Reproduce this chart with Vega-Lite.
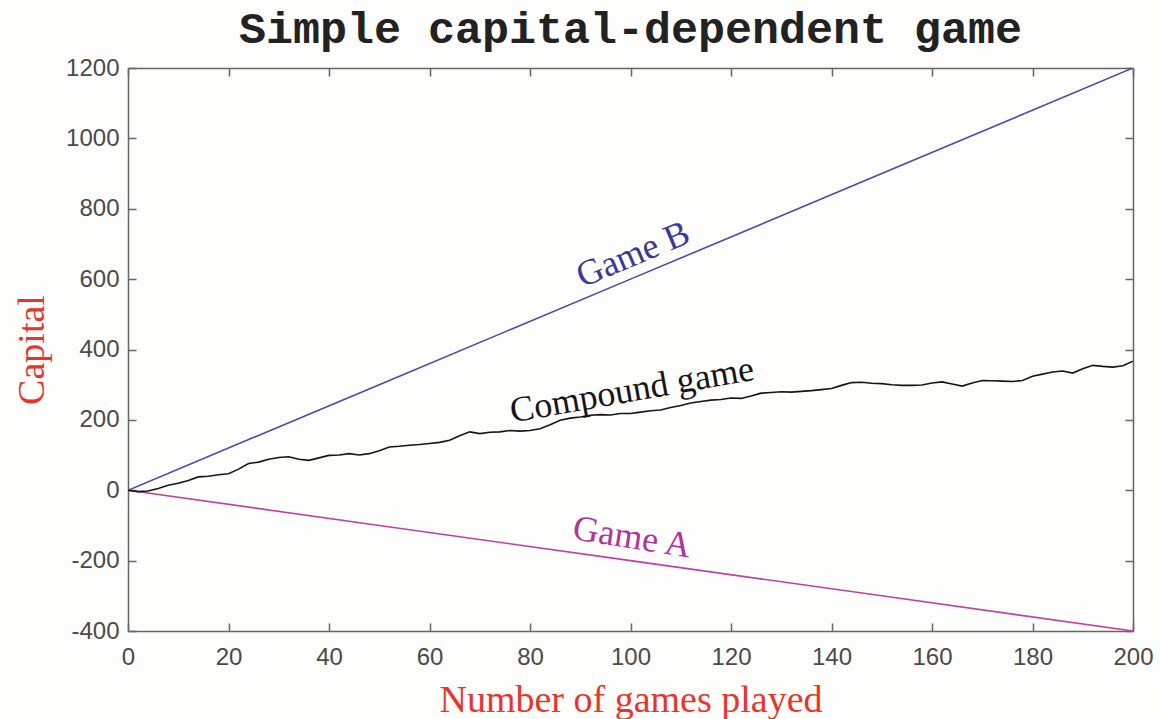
{
  "$schema": "https://vega.github.io/schema/vega-lite/v6.json",
  "width": 1005,
  "height": 563,
  "autosize": "none",
  "padding": {"left": 128, "top": 68, "right": 27, "bottom": 88},
  "background": "#fdfdfb",
  "title": {"text": "Simple capital-dependent game", "font": "Liberation Mono", "fontWeight": "bold", "fontSize": 45, "color": "#222222", "offset": 4, "anchor": "middle"},
  "config": {
    "view": {"stroke": null},
    "axis": {"grid": false, "domainColor": "#666666", "domainWidth": 1.5, "tickColor": "#666666", "tickWidth": 1.5, "tickSize": -8, "labelFont": "Liberation Sans", "labelFontSize": 24, "labelColor": "#4a4a4a", "labelFlush": false, "labelOverlap": false, "labelExpr": "'' + datum.value", "titleFont": "Liberation Serif", "titleFontWeight": "normal", "titleFontSize": 38, "titleColor": "#e8352b"}
  },
  "datasets": {
    "lines": [
      {"series": "Game B", "games": 0, "capital": 0},
      {"series": "Game B", "games": 50, "capital": 300},
      {"series": "Game B", "games": 100, "capital": 600},
      {"series": "Game B", "games": 150, "capital": 900},
      {"series": "Game B", "games": 200, "capital": 1200},
      {"series": "Game A", "games": 0, "capital": 0},
      {"series": "Game A", "games": 50, "capital": -100},
      {"series": "Game A", "games": 100, "capital": -200},
      {"series": "Game A", "games": 150, "capital": -300},
      {"series": "Game A", "games": 200, "capital": -400},
      {"series": "Compound", "games": 0, "capital": 0},
      {"series": "Compound", "games": 2, "capital": -4},
      {"series": "Compound", "games": 4, "capital": -2},
      {"series": "Compound", "games": 6, "capital": 5},
      {"series": "Compound", "games": 8, "capital": 14},
      {"series": "Compound", "games": 10, "capital": 20},
      {"series": "Compound", "games": 12, "capital": 28},
      {"series": "Compound", "games": 14, "capital": 38},
      {"series": "Compound", "games": 16, "capital": 40},
      {"series": "Compound", "games": 18, "capital": 44},
      {"series": "Compound", "games": 20, "capital": 47},
      {"series": "Compound", "games": 22, "capital": 60},
      {"series": "Compound", "games": 24, "capital": 76},
      {"series": "Compound", "games": 26, "capital": 80},
      {"series": "Compound", "games": 28, "capital": 88},
      {"series": "Compound", "games": 30, "capital": 93},
      {"series": "Compound", "games": 32, "capital": 95},
      {"series": "Compound", "games": 34, "capital": 88},
      {"series": "Compound", "games": 36, "capital": 85},
      {"series": "Compound", "games": 38, "capital": 92},
      {"series": "Compound", "games": 40, "capital": 99},
      {"series": "Compound", "games": 42, "capital": 100},
      {"series": "Compound", "games": 44, "capital": 104},
      {"series": "Compound", "games": 46, "capital": 100},
      {"series": "Compound", "games": 48, "capital": 104},
      {"series": "Compound", "games": 50, "capital": 112},
      {"series": "Compound", "games": 52, "capital": 123},
      {"series": "Compound", "games": 54, "capital": 125},
      {"series": "Compound", "games": 56, "capital": 128},
      {"series": "Compound", "games": 58, "capital": 130},
      {"series": "Compound", "games": 60, "capital": 133},
      {"series": "Compound", "games": 62, "capital": 136},
      {"series": "Compound", "games": 64, "capital": 142},
      {"series": "Compound", "games": 66, "capital": 155},
      {"series": "Compound", "games": 68, "capital": 166},
      {"series": "Compound", "games": 70, "capital": 161},
      {"series": "Compound", "games": 72, "capital": 165},
      {"series": "Compound", "games": 74, "capital": 166},
      {"series": "Compound", "games": 76, "capital": 170},
      {"series": "Compound", "games": 78, "capital": 168},
      {"series": "Compound", "games": 80, "capital": 170},
      {"series": "Compound", "games": 82, "capital": 175},
      {"series": "Compound", "games": 84, "capital": 186},
      {"series": "Compound", "games": 86, "capital": 199},
      {"series": "Compound", "games": 88, "capital": 205},
      {"series": "Compound", "games": 90, "capital": 208},
      {"series": "Compound", "games": 92, "capital": 213},
      {"series": "Compound", "games": 94, "capital": 215},
      {"series": "Compound", "games": 96, "capital": 214},
      {"series": "Compound", "games": 98, "capital": 218},
      {"series": "Compound", "games": 100, "capital": 218},
      {"series": "Compound", "games": 102, "capital": 222},
      {"series": "Compound", "games": 104, "capital": 226},
      {"series": "Compound", "games": 106, "capital": 228},
      {"series": "Compound", "games": 108, "capital": 235},
      {"series": "Compound", "games": 110, "capital": 241},
      {"series": "Compound", "games": 112, "capital": 248},
      {"series": "Compound", "games": 114, "capital": 252},
      {"series": "Compound", "games": 116, "capital": 256},
      {"series": "Compound", "games": 118, "capital": 258},
      {"series": "Compound", "games": 120, "capital": 262},
      {"series": "Compound", "games": 122, "capital": 261},
      {"series": "Compound", "games": 124, "capital": 268},
      {"series": "Compound", "games": 126, "capital": 276},
      {"series": "Compound", "games": 128, "capital": 278},
      {"series": "Compound", "games": 130, "capital": 280},
      {"series": "Compound", "games": 132, "capital": 279},
      {"series": "Compound", "games": 134, "capital": 281},
      {"series": "Compound", "games": 136, "capital": 283},
      {"series": "Compound", "games": 138, "capital": 286},
      {"series": "Compound", "games": 140, "capital": 289},
      {"series": "Compound", "games": 142, "capital": 298},
      {"series": "Compound", "games": 144, "capital": 306},
      {"series": "Compound", "games": 146, "capital": 307},
      {"series": "Compound", "games": 148, "capital": 304},
      {"series": "Compound", "games": 150, "capital": 303},
      {"series": "Compound", "games": 152, "capital": 300},
      {"series": "Compound", "games": 154, "capital": 298},
      {"series": "Compound", "games": 156, "capital": 298},
      {"series": "Compound", "games": 158, "capital": 299},
      {"series": "Compound", "games": 160, "capital": 305},
      {"series": "Compound", "games": 162, "capital": 308},
      {"series": "Compound", "games": 164, "capital": 302},
      {"series": "Compound", "games": 166, "capital": 296},
      {"series": "Compound", "games": 168, "capital": 305},
      {"series": "Compound", "games": 170, "capital": 312},
      {"series": "Compound", "games": 172, "capital": 311},
      {"series": "Compound", "games": 174, "capital": 310},
      {"series": "Compound", "games": 176, "capital": 309},
      {"series": "Compound", "games": 178, "capital": 312},
      {"series": "Compound", "games": 180, "capital": 324},
      {"series": "Compound", "games": 182, "capital": 330},
      {"series": "Compound", "games": 184, "capital": 336},
      {"series": "Compound", "games": 186, "capital": 339},
      {"series": "Compound", "games": 188, "capital": 333},
      {"series": "Compound", "games": 190, "capital": 345},
      {"series": "Compound", "games": 192, "capital": 355},
      {"series": "Compound", "games": 194, "capital": 352},
      {"series": "Compound", "games": 196, "capital": 350},
      {"series": "Compound", "games": 198, "capital": 354},
      {"series": "Compound", "games": 200, "capital": 367}
    ],
    "labels": [
      {"label": "Game B", "games": 100.5, "capital": 670},
      {"label": "Compound game", "games": 100.3, "capital": 284},
      {"label": "Game A", "games": 100.3, "capital": -134}
    ]
  },
  "resolve": {"axis": {"x": "independent", "y": "independent"}},
  "layer": [
    {
      "data": {"name": "lines"},
      "mark": {"type": "line", "strokeWidth": 1.6, "clip": true},
      "encoding": {
        "x": {"field": "games", "type": "quantitative", "scale": {"domain": [0, 200], "nice": false}, "axis": {"orient": "bottom", "values": [0, 20, 40, 60, 80, 100, 120, 140, 160, 180, 200], "title": "Number of games played", "labelPadding": 22, "titlePadding": 12}},
        "y": {"field": "capital", "type": "quantitative", "scale": {"domain": [-400, 1200], "nice": false}, "axis": {"orient": "left", "values": [-400, -200, 0, 200, 400, 600, 800, 1000, 1200], "title": "Capital", "labelPadding": 17, "titlePadding": 14}},
        "color": {"field": "series", "type": "nominal", "scale": {"domain": ["Game B", "Game A", "Compound"], "range": ["#4b4aa6", "#c2409e", "#161616"]}, "legend": null},
        "strokeWidth": {"field": "series", "type": "nominal", "scale": {"domain": ["Game B", "Game A", "Compound"], "range": [1.6, 1.6, 2.2]}, "legend": null}
      }
    },
    {
      "data": {"name": "labels"},
      "transform": [{"filter": "datum.label == 'Game B'"}],
      "mark": {"type": "text", "font": "Liberation Serif", "fontSize": 36, "angle": -22.8, "color": "#3a3a96", "align": "center", "baseline": "middle"},
      "encoding": {
        "x": {"field": "games", "type": "quantitative", "scale": {"domain": [0, 200], "nice": false}, "axis": {"orient": "top", "values": [0, 20, 40, 60, 80, 100, 120, 140, 160, 180, 200], "labels": false, "title": null}},
        "y": {"field": "capital", "type": "quantitative", "scale": {"domain": [-400, 1200], "nice": false}, "axis": {"orient": "right", "values": [-400, -200, 0, 200, 400, 600, 800, 1000, 1200], "labels": false, "title": null}},
        "text": {"field": "label"}
      }
    },
    {
      "data": {"name": "labels"},
      "transform": [{"filter": "datum.label == 'Compound game'"}],
      "mark": {"type": "text", "font": "Liberation Serif", "fontSize": 36, "angle": -10, "color": "#161616", "align": "center", "baseline": "middle"},
      "encoding": {
        "x": {"field": "games", "type": "quantitative", "axis": null},
        "y": {"field": "capital", "type": "quantitative", "axis": null},
        "text": {"field": "label"}
      }
    },
    {
      "data": {"name": "labels"},
      "transform": [{"filter": "datum.label == 'Game A'"}],
      "mark": {"type": "text", "font": "Liberation Serif", "fontSize": 36, "angle": 9, "color": "#b0359a", "align": "center", "baseline": "middle"},
      "encoding": {
        "x": {"field": "games", "type": "quantitative", "axis": null},
        "y": {"field": "capital", "type": "quantitative", "axis": null},
        "text": {"field": "label"}
      }
    }
  ]
}
